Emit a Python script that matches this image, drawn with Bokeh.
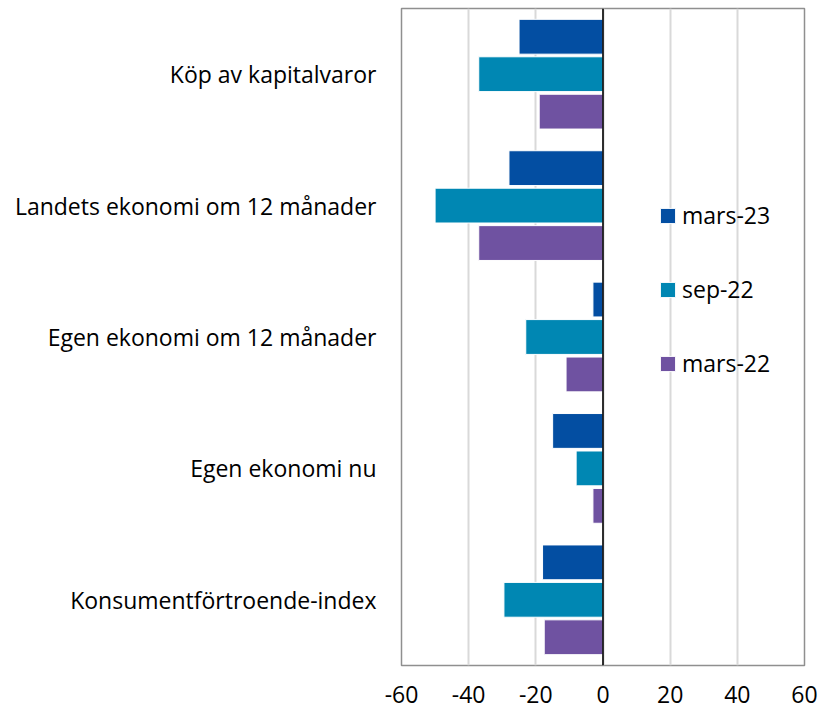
from bokeh.plotting import figure
from bokeh.models import FactorRange, FixedTicker, Span, Legend, LegendItem, CustomJSTickFormatter
from bokeh.transform import dodge
from bokeh.embed import file_html
from bokeh.resources import INLINE

categories = ["Köp av kapitalvaror", "Landets ekonomi om 12 månader",
              "Egen ekonomi om 12 månader", "Egen ekonomi nu",
              "Konsumentförtroende-index"]
series_names = ["mars-23", "sep-22", "mars-22"]
mars23 = [-25, -28, -3, -15, -18]
sep22 = [-37, -50, -23, -8, -29.5]
mars22 = [-19, -37, -11, -3, -17.5]
x_ticks = [-60, -40, -20, 0, 20, 40, 60]

colors = ["#034EA2", "#0087B3", "#6F52A1"]
FONT = "Open Sans"
FS = "23px"

data = dict(cat=categories, m23=mars23, s22=sep22, m22=mars22)

p = figure(width=820, height=712, output_backend="svg", toolbar_location=None,
           y_range=FactorRange(factors=list(reversed(categories)), range_padding=0),
           x_range=(-60, 60),
           min_border_left=401, min_border_right=16, min_border_top=8, min_border_bottom=47)

offsets = [0.285, 0.0, -0.285]
renderers = []
for key, off, col in zip(["m23", "s22", "m22"], offsets, colors):
    r = p.hbar(y=dodge("cat", off, range=p.y_range), right=key, left=0, height=0.265,
               source=data, fill_color=col, line_color="white", line_width=1)
    renderers.append(r)

p.add_layout(Span(location=0, dimension="height", line_color="black", line_width=1.6))

p.xgrid.grid_line_color = "#D9D9D9"
p.xgrid.grid_line_width = 2
p.ygrid.grid_line_color = None
p.xaxis.ticker = FixedTicker(ticks=x_ticks)
p.xaxis.formatter = CustomJSTickFormatter(code="return tick.toString();")

p.outline_line_color = "#8F8F8F"
p.outline_line_width = 1.5

for ax in (p.xaxis[0], p.yaxis[0]):
    ax.axis_line_color = None
    ax.major_tick_line_color = None
    ax.minor_tick_line_color = None
    ax.major_tick_out = 0
    ax.major_tick_in = 0
    ax.major_label_text_font = FONT
    ax.major_label_text_font_size = FS
    ax.major_label_text_color = "black"
p.yaxis.major_label_standoff = 25
p.xaxis.major_label_standoff = 20

legend = Legend(items=[LegendItem(label=n, renderers=[r]) for n, r in zip(series_names, renderers)],
                location=(257, 286), orientation="vertical",
                label_text_font=FONT, label_text_font_size=FS, label_text_color="black",
                glyph_width=19, glyph_height=19, label_height=22, label_standoff=5,
                spacing=42, padding=0, margin=0,
                border_line_color=None, background_fill_alpha=0)
p.add_layout(legend, "center")

open("out.html", "w").write(file_html(p, INLINE))
